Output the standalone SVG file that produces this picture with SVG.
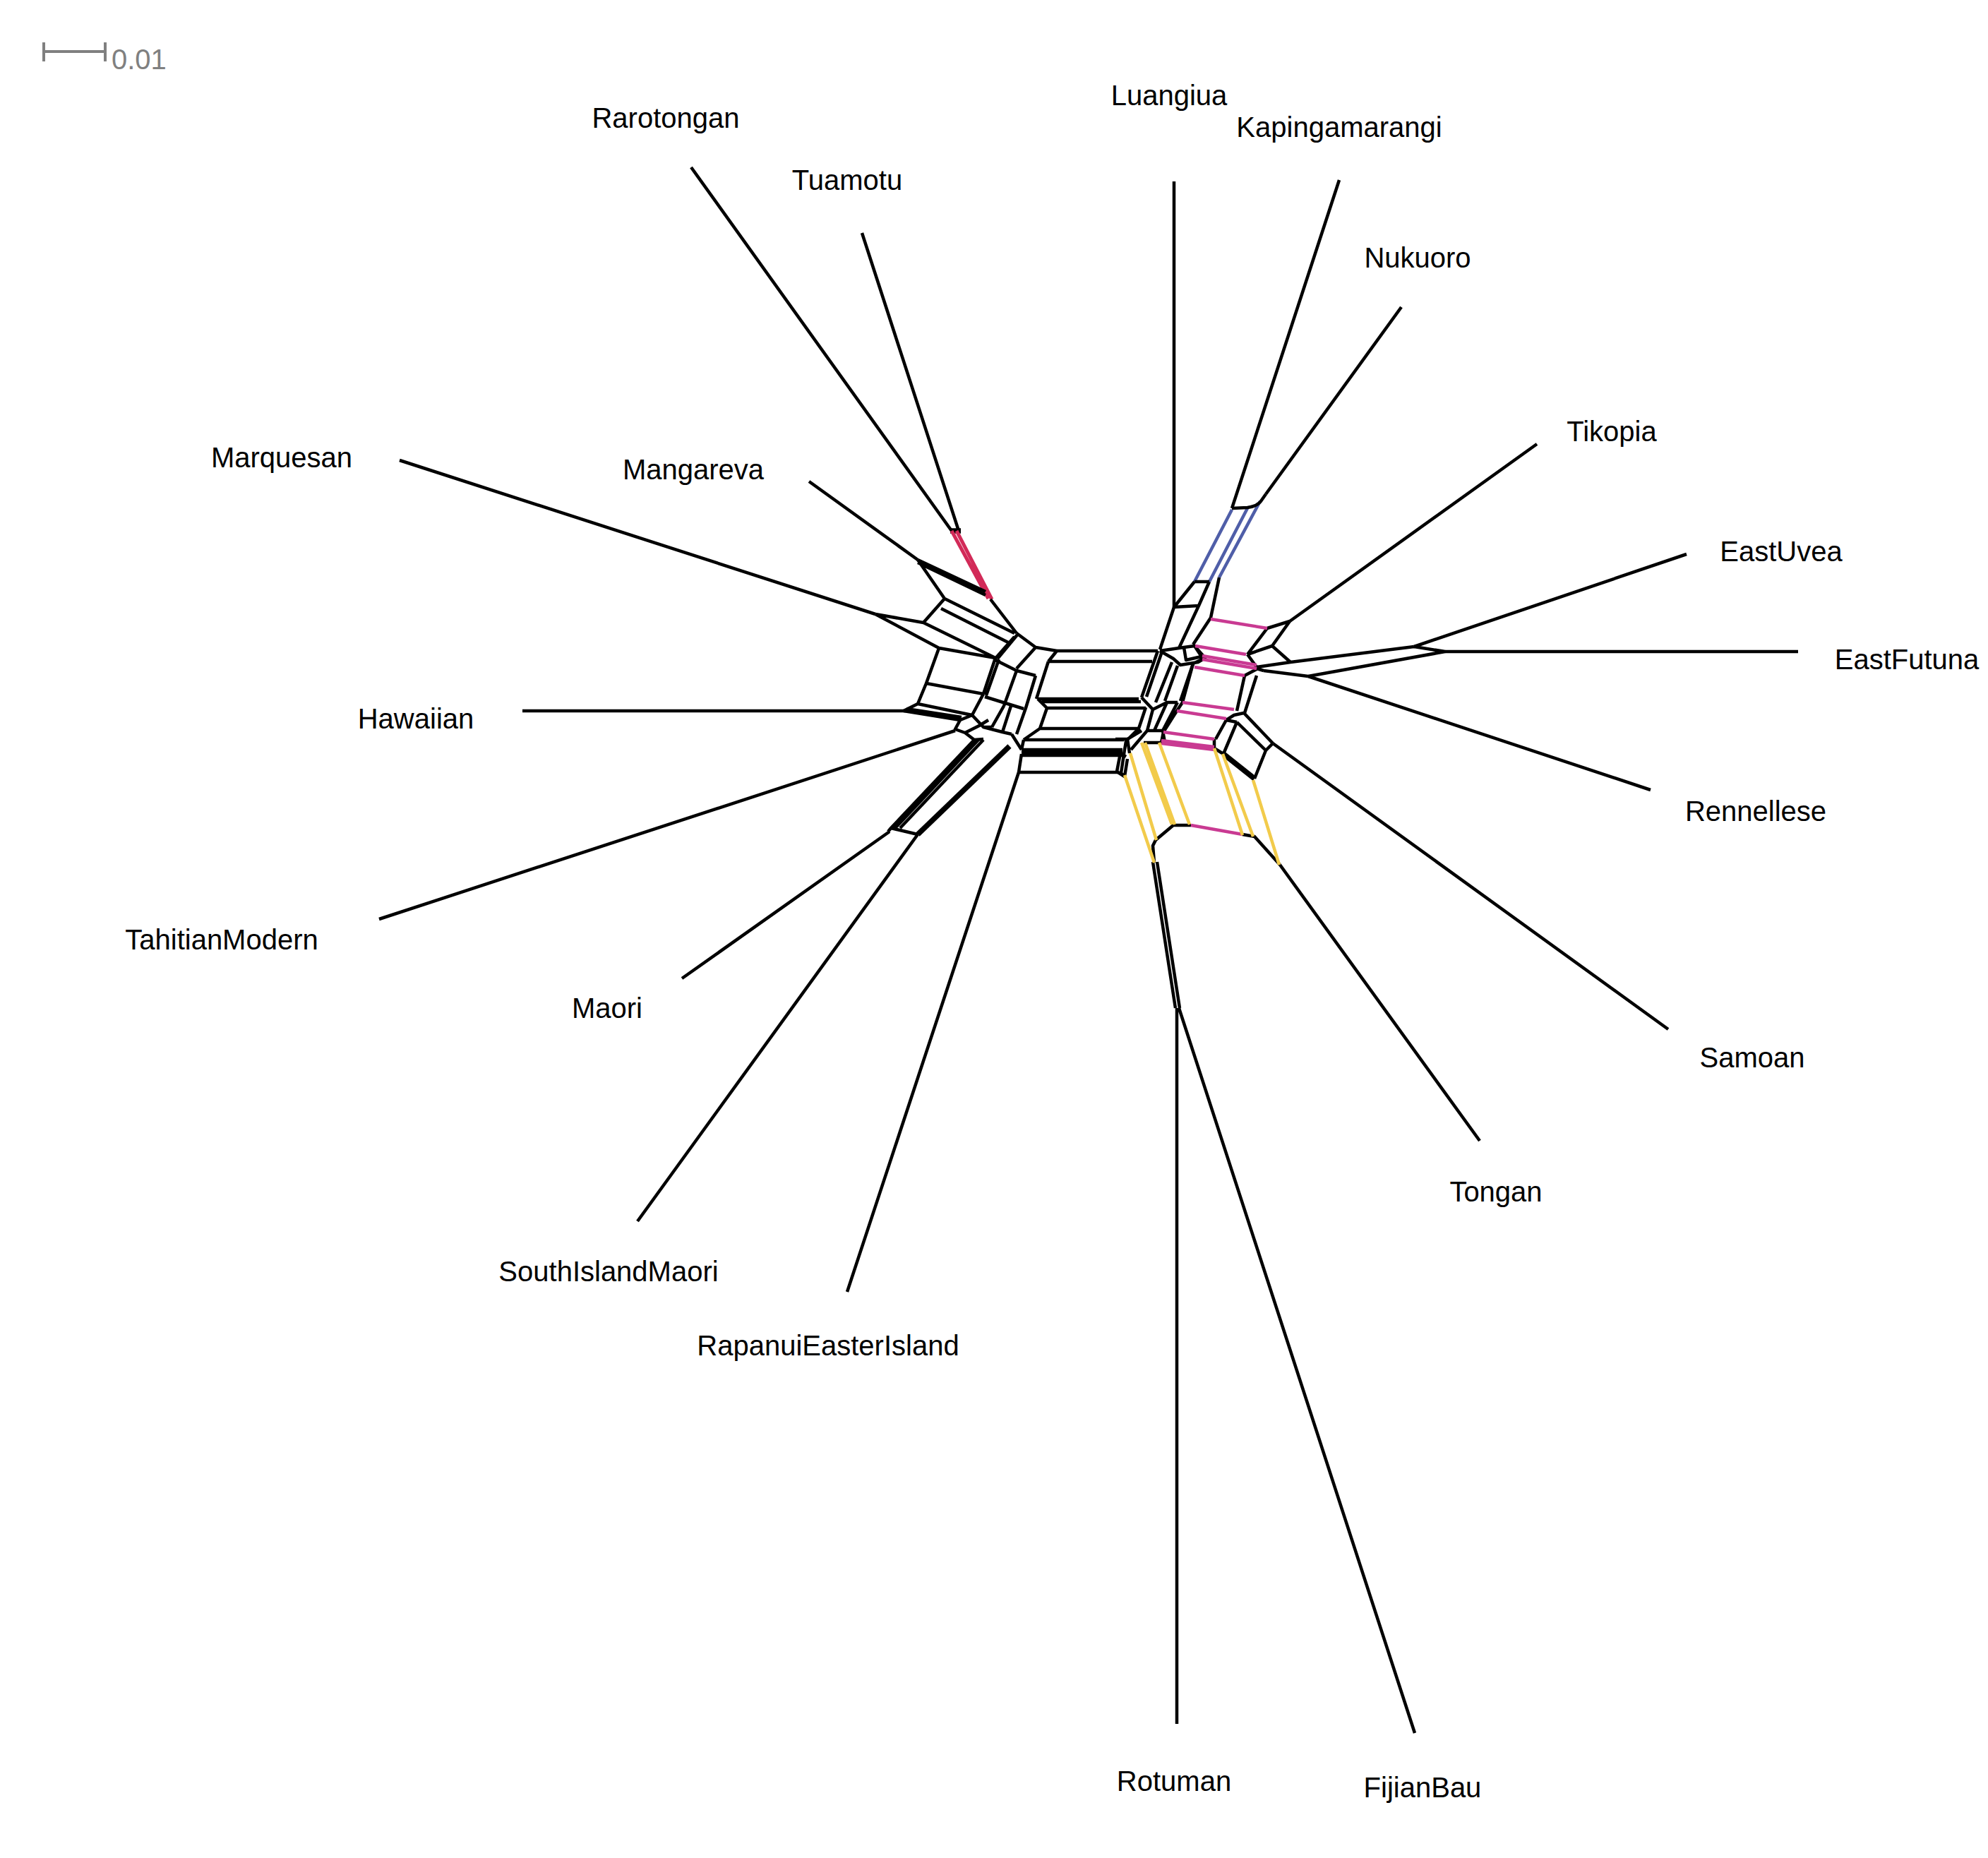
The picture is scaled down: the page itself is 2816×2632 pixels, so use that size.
<svg xmlns="http://www.w3.org/2000/svg" width="2816" height="2632" viewBox="0 0 2816 2632">
<style>
.e{stroke:#000;stroke-width:4.5;fill:none;stroke-linejoin:round}
.t{stroke:#000;stroke-width:7.5;fill:none}
.r{stroke:#d22a58;stroke-width:5;fill:none}
.b{stroke:#4f5ea8;stroke-width:4.5;fill:none}
.m{stroke:#c93a92;stroke-width:4.5;fill:none}
.y{stroke:#f2cb4b;stroke-width:4.5;fill:none}
.lbl{font-family:"Liberation Sans",Arial,sans-serif;font-size:40px;fill:#000;text-anchor:middle}
</style>
<rect width="2816" height="2632" fill="#fff"/>
<g id="scale">
<path d="M62 73H149M62 60V87M149 60V87" stroke="#808080" stroke-width="4" fill="none"/>
<text x="158" y="98" font-family="Liberation Sans,Arial,sans-serif" font-size="40" fill="#808080">0.01</text>
</g>
<g id="connectors">
<!-- pendant edges -->
<path class="e" d="M979 237L1348 752M1221 330L1358 752M1146 682L1300 793M566 652L1240 870M740 1007L1283 1007M537 1302L1353 1035M966 1386L1260 1178M903 1730L1300 1182M1200 1830L1443 1094M1667 2442L1667 1428M1670 1428L2004 2455M1813 1225L2096 1616M1803 1053L2363 1458M1853 958L2338 1119M2047 923L2547 923M2003 916L2389 785M1827 880L2177 629M1793 700L1985 435M1897 255L1745 720M1663 257L1663 860"/>
<path class="t" d="M1346 752H1361"/>
<path class="e" d="M1633 1221L1665 1428M1639 1221L1671 1428"/>
<!-- red split -->
<path class="r" d="M1348 752L1400 848M1355 752L1405 849"/>
<!-- blue split -->
<path class="b" d="M1692 824L1745 722M1713 824L1767 720M1727 818L1785 710"/>
<path class="e" d="M1745 720L1767 719Q1781 717 1786 710L1793 700"/>
<!-- left cluster -->
<path class="e" d="M1300 793L1396 838M1300 797L1396 843M1300 793L1338 848M1338 848L1437 897M1403 849L1440 897M1240 870L1308 882M1240 870L1330 918M1308 882L1338 848M1333 862L1428 910M1308 882L1410 932M1330 918L1410 932M1330 918L1312 968L1300 997L1280 1007M1312 968L1393 983M1300 997L1377 1013M1280 1007L1360 1020M1284 1004L1362 1016"/>
<path class="e" d="M1440 897L1467 917L1497 922M1442 898L1413 933M1437 902L1408 935M1410 932L1393 983M1415 934L1397 985M1410 935L1440 950L1467 957M1467 917L1440 947M1485 937L1468 990M1440 950L1422 1000M1395 987L1450 1004M1467 957L1453 1003M1393 983L1377 1013M1422 1000L1405 1030M1453 1003L1440 1040"/>
<path class="e" d="M1360 1020L1377 1013M1360 1020L1353 1033L1367 1038L1380 1048L1393 1047M1377 1013L1393 1030L1420 1037L1433 1040M1367 1038L1387 1028L1400 1020M1393 1030L1405 1030M1420 1037L1432 1000M1433 1040L1447 1062"/>
<!-- Maori / SouthIsland bands -->
<path class="e" d="M1380 1048L1262 1173M1386 1048L1268 1173M1393 1048L1275 1173M1262 1173L1300 1182M1258 1178L1262 1173"/>
<path class="t" d="M1300 1182L1430 1057"/>
<path class="e" d="M1443 1094L1447 1068"/>
<!-- central horizontal boxes -->
<path class="e" d="M1497 922H1640M1485 937H1632M1497 922L1485 937M1470 990H1613M1476 994H1616M1483 1003H1623M1470 990L1483 1003M1483 1003L1473 1032M1473 1032H1615M1473 1032L1450 1048M1450 1048H1592M1447 1062H1590M1447 1066H1590M1447 1070H1590M1450 1048L1447 1062M1443 1094H1585"/>
<!-- right chain -->
<path class="e" d="M1640 922L1617 988M1647 920L1624 987M1660 938L1637 995M1668 943L1650 993M1690 940L1672 993M1617 988L1633 1005L1653 995L1668 995M1623 1002L1613 1032L1595 1050L1593 1062L1588 1095L1593 1100M1633 1005L1625 1035L1602 1062M1625 1035L1647 1035L1650 1052L1620 1052M1653 995L1635 1035M1668 995L1647 1035M1675 995L1667 1007L1648 1037L1645 1052M1580 1047L1597 1047L1617 1035M1597 1047L1600 1067M1595 1072L1587 1067L1582 1093L1593 1100L1597 1075"/>
<!-- top right cluster -->
<path class="e" d="M1692 824L1713 824M1692 824L1663 860M1663 860L1698 858M1698 858L1713 824M1727 818L1715 875M1715 875L1690 913M1663 860L1643 920M1698 858L1670 918M1643 922L1677 917L1692 915L1707 932L1697 938L1672 942L1662 933L1643 922M1692 915L1702 930L1680 935L1677 917M1707 932L1690 940L1675 995"/>
<!-- Tikopia / Uvea / Futuna / Rennellese -->
<path class="e" d="M1795 890L1827 880M1827 880L1802 915M1795 890L1767 927M1767 927L1802 915M1802 915L1828 938M1767 927L1780 945M1780 945L1828 938M1828 938L2003 916M2003 916L2047 923M1853 958L2047 923M1853 958L1790 950M1790 950L1780 947M1763 957L1780 948M1763 957L1752 1007M1780 957L1763 1010"/>
<!-- Samoan box -->
<path class="e" d="M1720 1047L1720 1060L1733 1068M1722 1047L1737 1020L1748 1013L1762 1010M1737 1020L1752 1023M1752 1023L1733 1068M1762 1010L1803 1053M1752 1023L1793 1063M1803 1053L1793 1063L1777 1103"/>
<path class="t" d="M1733 1068L1777 1103"/>
<!-- bottom yellow/magenta loop -->
<path class="e" d="M1813 1225L1777 1185L1760 1182M1687 1169L1662 1169L1637 1190L1633 1198L1635 1222"/>
<path class="m" d="M1760 1182L1687 1169"/>
<!-- magenta splits -->
<path class="m" d="M1715 877L1795 890M1693 915L1765 927M1703 929L1780 942M1703 934L1780 947M1692 945L1763 957M1675 995L1748 1005M1667 1007L1737 1018M1648 1037L1720 1047M1645 1049L1720 1058M1645 1053L1720 1062"/>
<!-- yellow splits -->
<path class="y" d="M1593 1098L1635 1222M1601 1067L1638 1190M1617 1052L1660 1168M1622 1052L1664 1168M1642 1052L1685 1168M1720 1060L1760 1183M1732 1068L1775 1185M1775 1105L1812 1225"/>
</g>
<g id="labels">
<g id="n-Rarotongan"><text class="lbl" x="943" y="181">Rarotongan</text></g>
<g id="n-Tuamotu"><text class="lbl" x="1200" y="269">Tuamotu</text></g>
<g id="n-Luangiua"><text class="lbl" x="1656" y="149">Luangiua</text></g>
<g id="n-Kapingamarangi"><text class="lbl" x="1897" y="194">Kapingamarangi</text></g>
<g id="n-Nukuoro"><text class="lbl" x="2008" y="379">Nukuoro</text></g>
<g id="n-Tikopia"><text class="lbl" x="2283" y="625">Tikopia</text></g>
<g id="n-EastUvea"><text class="lbl" x="2523" y="795">EastUvea</text></g>
<g id="n-EastFutuna"><text class="lbl" x="2701" y="948">EastFutuna</text></g>
<g id="n-Rennellese"><text class="lbl" x="2487" y="1163">Rennellese</text></g>
<g id="n-Samoan"><text class="lbl" x="2482" y="1512">Samoan</text></g>
<g id="n-Tongan"><text class="lbl" x="2119" y="1702">Tongan</text></g>
<g id="n-FijianBau"><text class="lbl" x="2015" y="2546">FijianBau</text></g>
<g id="n-Rotuman"><text class="lbl" x="1663" y="2537">Rotuman</text></g>
<g id="n-RapanuiEasterIsland"><text class="lbl" x="1173" y="1920">RapanuiEasterIsland</text></g>
<g id="n-SouthIslandMaori"><text class="lbl" x="862" y="1815">SouthIslandMaori</text></g>
<g id="n-Maori"><text class="lbl" x="860" y="1442">Maori</text></g>
<g id="n-TahitianModern"><text class="lbl" x="314" y="1345">TahitianModern</text></g>
<g id="n-Hawaiian"><text class="lbl" x="589" y="1032">Hawaiian</text></g>
<g id="n-Marquesan"><text class="lbl" x="399" y="662">Marquesan</text></g>
<g id="n-Mangareva"><text class="lbl" x="982" y="679">Mangareva</text></g>
</g>
</svg>
